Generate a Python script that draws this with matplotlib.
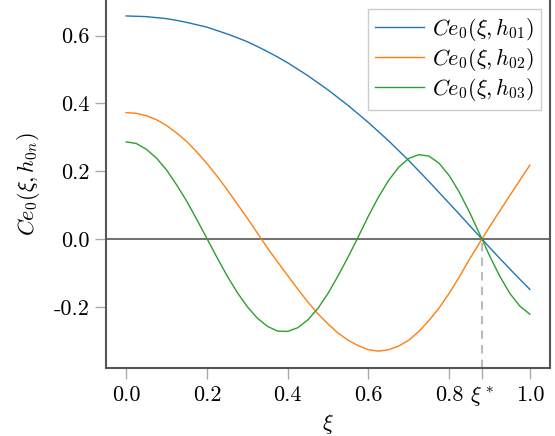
import numpy as np
import matplotlib
matplotlib.use("Agg")
import matplotlib.pyplot as plt

plt.rcParams['font.family'] = 'cmr10'
plt.rcParams['mathtext.fontset'] = 'cm'
plt.rcParams['axes.unicode_minus'] = False

# xi samples (0 .. 1 step 0.025) and values
xi = np.linspace(0.0, 1.0, 41)

ce_h01 = [0.658, 0.657, 0.656, 0.653, 0.650, 0.645, 0.639, 0.632, 0.625, 0.615,
          0.605, 0.594, 0.582, 0.568, 0.553, 0.537, 0.520, 0.501, 0.482, 0.461,
          0.440, 0.417, 0.394, 0.369, 0.344, 0.317, 0.290, 0.261, 0.232, 0.201,
          0.170, 0.138, 0.106, 0.074, 0.041, 0.009, -0.024, -0.056, -0.087, -0.118,
          -0.148]
ce_h02 = [0.373, 0.371, 0.364, 0.352, 0.335, 0.313, 0.288, 0.257, 0.223, 0.186,
          0.146, 0.104, 0.062, 0.018, -0.026, -0.067, -0.107, -0.147, -0.185, -0.220,
          -0.250, -0.277, -0.298, -0.314, -0.326, -0.330, -0.326, -0.315, -0.298, -0.272,
          -0.240, -0.203, -0.160, -0.112, -0.060, -0.012, 0.036, 0.082, 0.128, 0.173,
          0.218]
ce_h03 = [0.287, 0.282, 0.265, 0.239, 0.204, 0.160, 0.112, 0.058, 0.002, -0.054,
          -0.108, -0.157, -0.199, -0.233, -0.257, -0.271, -0.272, -0.261, -0.238, -0.204,
          -0.160, -0.108, -0.052, 0.007, 0.068, 0.124, 0.173, 0.212, 0.238, 0.249,
          0.245, 0.224, 0.188, 0.139, 0.081, 0.017, -0.048, -0.108, -0.159, -0.197,
          -0.221]

xi_star = 0.881
labels = [r'$Ce_0(\xi, h_{01})$', r'$Ce_0(\xi, h_{02})$', r'$Ce_0(\xi, h_{03})$']
xticks = [0.0, 0.2, 0.4, 0.6, 0.8, xi_star, 1.0]
xticklabels = ['0.0', '0.2', '0.4', '0.6', '0.8', r'$\xi^*$', '1.0']
yticks = [-0.2, 0.0, 0.2, 0.4, 0.6]
yticklabels = ['-0.2', '0.0', '0.2', '0.4', '0.6']

fig = plt.figure(figsize=(5.55, 4.36), dpi=100)
ax = fig.add_axes([0.191, 0.155, 0.8, 0.845])

ax.axhline(0, color='#707070', lw=1.4, zorder=1)
ax.plot([xi_star, xi_star], [-0.381, 0.0], color='#bbbbbb', lw=1.5, ls=(0, (4, 3)), zorder=1)

for ys, c, lab in zip([ce_h01, ce_h02, ce_h03], ['#1f77b4', '#ff7f0e', '#2ca02c'], labels):
    ax.plot(xi, ys, color=c, lw=1.0, label=lab, zorder=2, solid_joinstyle='round')

ax.set_xlim(-0.05, 1.05)
ax.set_ylim(-0.381, 0.705)
ax.set_xticks(xticks)
ax.set_xticklabels(xticklabels)
ax.set_yticks(yticks)
ax.set_yticklabels(yticklabels)
ax.tick_params(labelsize=16, length=8, width=1.0, color='#aaaaaa', direction='out', pad=4)

for s in ['left', 'bottom', 'right']:
    ax.spines[s].set_color('#555555')
    ax.spines[s].set_linewidth(1.5)
ax.spines['top'].set_visible(False)

ax.set_xlabel(r'$\xi$', fontsize=16, labelpad=2)
ax.set_ylabel(r'$Ce_0(\xi, h_{0n})$', fontsize=16, labelpad=8)

leg = ax.legend(loc='upper right', fontsize=16, fancybox=False, framealpha=1,
                edgecolor='#cccccc', handlelength=2.2, handletextpad=0.4,
                borderpad=0.3, labelspacing=0.15, borderaxespad=0.4)
leg.get_frame().set_linewidth(1.0)

fig.savefig('out.png', dpi=100)
